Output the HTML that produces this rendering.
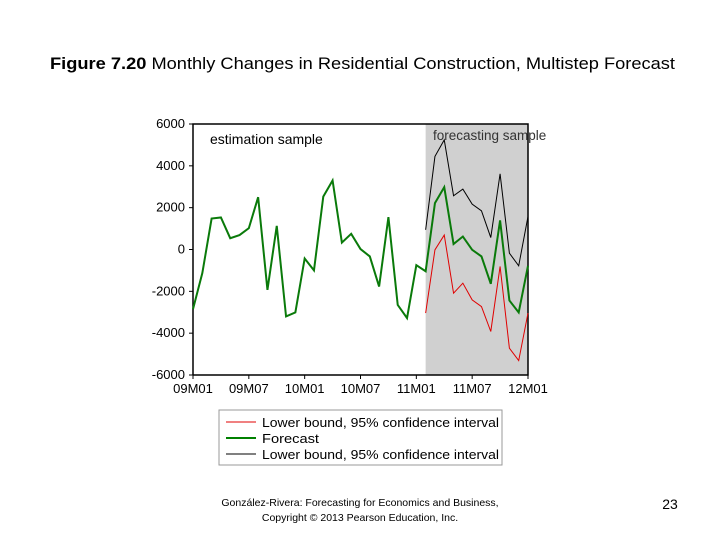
<!DOCTYPE html>
<html><head><meta charset="utf-8"><style>
body{margin:0;width:720px;height:540px;background:#fff;overflow:hidden;font-family:"Liberation Sans",sans-serif}
</style></head><body>
<svg width="720" height="540">
<text x="50" y="69" font-family="Liberation Sans,sans-serif" font-size="16.5" textLength="625" lengthAdjust="spacingAndGlyphs"><tspan font-weight="bold">Figure 7.20</tspan>  Monthly Changes in Residential Construction, Multistep Forecast</text>
<g id="chart"></g>
<rect x="219" y="410" width="283" height="55" fill="#fff" stroke="#999"/>
<g><line x1="226" y1="422" x2="256" y2="422" stroke="#e00000"/><text x="262" y="427" font-size="13" textLength="237" lengthAdjust="spacingAndGlyphs">Lower bound, 95% confidence interval</text></g>
<g><line x1="226" y1="438" x2="256" y2="438" stroke="#008000" stroke-width="2"/><text x="262" y="443" font-size="13" textLength="57" lengthAdjust="spacingAndGlyphs">Forecast</text></g>
<g><line x1="226" y1="454" x2="256" y2="454" stroke="#000"/><text x="262" y="459" font-size="13" textLength="237" lengthAdjust="spacingAndGlyphs">Lower bound, 95% confidence interval</text></g>
<text x="360" y="506" text-anchor="middle" font-size="10.5">González-Rivera: Forecasting for Economics and Business,</text>
<text x="360" y="521" text-anchor="middle" font-size="10.5">Copyright © 2013 Pearson Education, Inc.</text>
<text x="670" y="509" text-anchor="middle" font-size="14">23</text>
</svg>
<script>
const months=["09M01","09M07","10M01","10M07","11M01","11M07","12M01"];
const yTicks=[6000,4000,2000,0,-2000,-4000,-6000];
const forecastValues=[-2850,-1130,1480,1530,540,690,1020,2500,-1930,1130,-3200,-3010,-430,-1000,2530,3300,330,750,20,-330,-1770,1550,-2650,-3280,-750,-1040,2220,2980,260,620,-15,-330,-1640,1390,-2440,-3010,-780];
const upperValues=[940,4450,5240,2570,2890,2170,1850,570,3620,-175,-780,1580];
const lowerValues=[-3040,-15,690,-2090,-1610,-2410,-2730,-3920,-810,-4720,-5310,-3040];
const forecastStart=25;
const ns="http://www.w3.org/2000/svg";
const g=document.getElementById('chart');
const X0=193,X1=528,Y0=124,Y1=375;
const xs=i=>X0+(X1-X0)*i/36;
const ys=v=>Y0+(6000-v)/12000*(Y1-Y0);
function mk(t,a,p){const e=document.createElementNS(ns,t);for(const k in a)e.setAttribute(k,a[k]);(p||g).appendChild(e);return e;}
let r=mk('rect',{x:xs(forecastStart),y:Y0,width:X1-xs(forecastStart),height:Y1-Y0,fill:'#d0d0d0'});


let ax=mk('path',{d:`M${X0},${Y1}V${Y0}H${X1}V${Y1}H${X0}`,fill:'none',stroke:'#000','stroke-width':1.5});


yTicks.forEach(v=>{const y=ys(v);
 mk('line',{x1:X0-4,x2:X0,y1:y,y2:y,stroke:'#000'});
 const t=mk('text',{x:X0-8,y:y+4,'text-anchor':'end','font-size':13});t.textContent=v;
 
 });
months.forEach((m,i)=>{const x=xs(i*6);
 mk('line',{x1:x,x2:x,y1:Y1,y2:Y1+4,stroke:'#000'});
 const t=mk('text',{x:x,y:Y1+18,'text-anchor':'middle','font-size':13});t.textContent=m;
 
 });
function line(vals,off,col,w,name){const p=mk('polyline',{points:vals.map((v,i)=>xs(i+off)+','+ys(v)).join(' '),fill:'none',stroke:col,'stroke-width':w});
 
 }
line(upperValues,forecastStart,'#000',1,'upper-bound-line');
line(lowerValues,forecastStart,'#e00000',1,'lower-bound-line');
line(forecastValues,0,'#0a7a0a',2,'forecast-line');
let t1=mk('text',{x:210,y:144,'font-size':14});t1.textContent='estimation sample';


let t2=mk('text',{x:433,y:140,'font-size':13.5,fill:'#333'});t2.textContent='forecasting sample';


</script>
</body></html>
